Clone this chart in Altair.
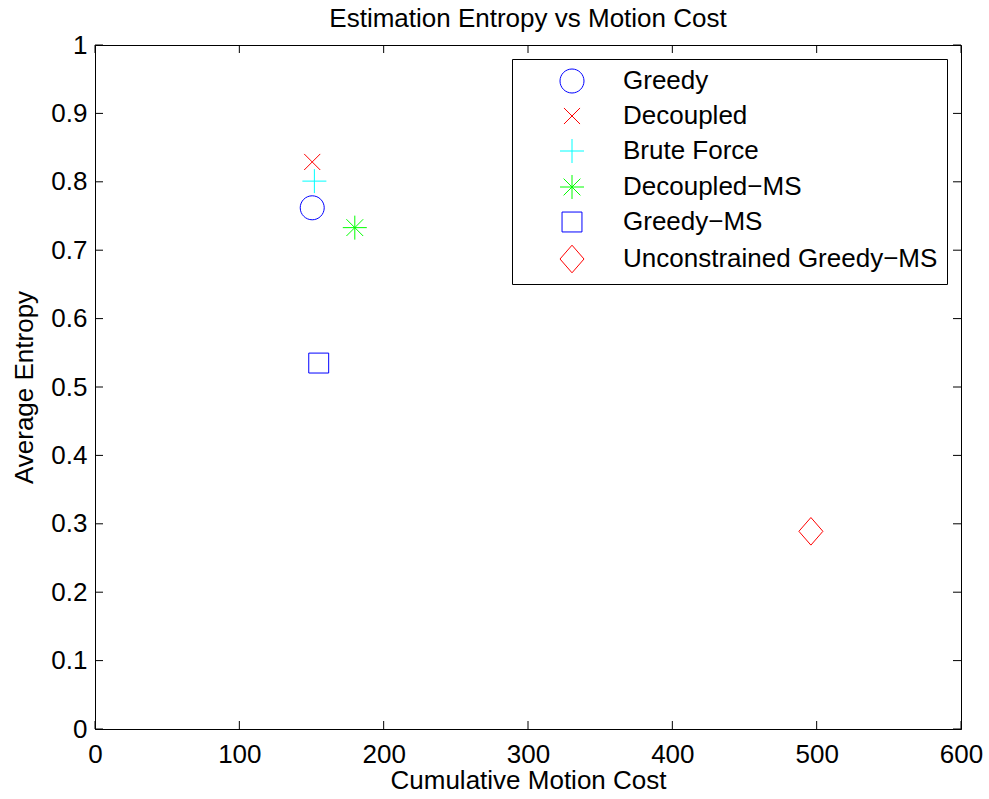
import altair as alt
import pandas as pd

title_text = "Estimation Entropy vs Motion Cost"
methods = ["Greedy", "Decoupled", "Brute Force", "Decoupled−MS", "Greedy−MS", "Unconstrained Greedy−MS"]
costs = [150.5, 150.5, 152, 180, 155, 496]
entropies = [0.762, 0.829, 0.801, 0.733, 0.535, 0.289]
colors = ["#0000ff", "#ff0000", "#00ffff", "#00ff00", "#0000ff", "#ff0000"]
shapes = [
    "M1,0A1,1,0,1,1,-1,0A1,1,0,1,1,1,0Z",
    "M-0.67,-0.67L0.67,0.67M-0.67,0.67L0.67,-0.67",
    "M-1,0L1,0M0,-1L0,1",
    "M-1,0L1,0M0,-1L0,1M-0.7,-0.7L0.7,0.7M-0.7,0.7L0.7,-0.7",
    "M-0.83,-0.83L0.83,-0.83L0.83,0.83L-0.83,0.83Z",
    "M0,-1.15L1,0L0,1.15L-1,0Z",
]
x_ticks = [0, 100, 200, 300, 400, 500, 600]
y_ticks = [0, 0.1, 0.2, 0.3, 0.4, 0.5, 0.6, 0.7, 0.8, 0.9, 1]

W, H = 866, 684
TL = 8
FONT = "Liberation Sans"
FS = 26

df = pd.DataFrame({"method": methods, "cost": costs, "entropy": entropies})
xt = pd.DataFrame({"v": x_ticks})
yt = pd.DataFrame({"v": y_ticks})

xscale = alt.Scale(domain=[0, 600], nice=False, zero=False)
yscale = alt.Scale(domain=[0, 1], nice=False, zero=False)

points = alt.Chart(df).mark_point(filled=False, size=576, strokeWidth=1, opacity=1).encode(
    x=alt.X("cost:Q", scale=xscale,
            axis=alt.Axis(values=x_ticks, title="Cumulative Motion Cost", format="d",
                          titleY=59, titleBaseline="alphabetic", labelPadding=12)),
    y=alt.Y("entropy:Q", scale=yscale,
            axis=alt.Axis(values=y_ticks, title="Average Entropy", format="~g",
                          titleX=-63, titleY=H / 2, titleBaseline="alphabetic",
                          titleAlign="center", titleAngle=-90, labelPadding=8)),
    color=alt.Color("method:N", scale=alt.Scale(domain=methods, range=colors),
                    legend=alt.Legend(title=None, orient="none", legendX=417, legendY=14,
                                      strokeColor="black", fillColor="white", padding=9,
                                      symbolOffset=38, labelOffset=38, rowPadding=8,
                                      symbolSize=576, symbolStrokeWidth=1,
                                      labelFont=FONT, labelFontSize=FS, labelColor="black",
                                      labelLimit=0)),
    shape=alt.Shape("method:N", scale=alt.Scale(domain=methods, range=shapes),
                    legend=alt.Legend(title=None, orient="none", legendX=417, legendY=14)),
)

x_bot = alt.Chart(xt).mark_rule(color="black", strokeWidth=1).encode(
    x=alt.X("v:Q", scale=xscale), y=alt.value(H), y2=alt.value(H - TL))
x_top = alt.Chart(xt).mark_rule(color="black", strokeWidth=1).encode(
    x=alt.X("v:Q", scale=xscale), y=alt.value(0), y2=alt.value(TL))
y_left = alt.Chart(yt).mark_rule(color="black", strokeWidth=1).encode(
    y=alt.Y("v:Q", scale=yscale), x=alt.value(0), x2=alt.value(TL))
y_right = alt.Chart(yt).mark_rule(color="black", strokeWidth=1).encode(
    y=alt.Y("v:Q", scale=yscale), x=alt.value(W), x2=alt.value(W - TL))

title = alt.Chart(pd.DataFrame({"t": [title_text]})).mark_text(
    font=FONT, fontSize=FS, color="black", align="center", baseline="alphabetic", clip=False
).encode(text="t:N", x=alt.value(W / 2), y=alt.value(-18))

chart = alt.layer(x_bot, x_top, y_left, y_right, points, title).properties(
    width=W, height=H,
    autosize=alt.AutoSizeParams(type="none"),
    padding={"left": 95, "top": 45, "right": 28, "bottom": 70},
    background="white",
).configure_view(stroke="black", strokeWidth=1).configure_axis(
    grid=False, ticks=False, tickSize=0, domainColor="black", domainWidth=1,
    labelFont=FONT, labelFontSize=FS, labelColor="black", labelFlush=False,
    labelOverlap=False, labelBound=False,
    titleFont=FONT, titleFontSize=FS, titleColor="black", titleFontWeight="normal",
)

chart.save("out.html", embed_options={"renderer": "svg", "actions": False})
